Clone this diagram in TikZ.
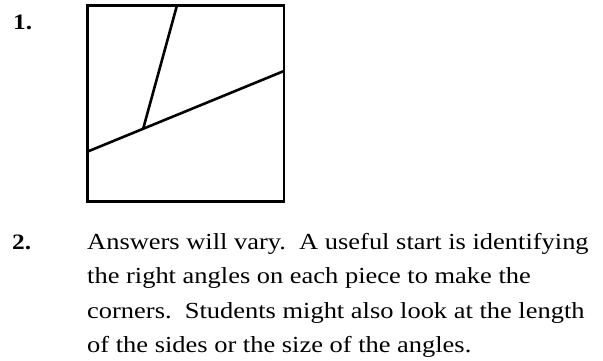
\documentclass[tikz,border=0pt]{standalone}
\usepackage{fontspec}
\setmainfont{Liberation Serif}
\newcommand{\widen}[1]{\scalebox{1.15}[1]{#1}}
\tikzset{
  edge/.style={line width=2.6pt, line join=miter, line cap=butt},
  numlabel/.style={anchor=base west, inner sep=0pt, font=\fontsize{22}{26}\selectfont\bfseries},
  textline/.style={anchor=base west, inner sep=0pt, font=\fontsize{23}{28}\selectfont},
}
\begin{document}
\begin{tikzpicture}[x=1pt,y=-1pt]
\useasboundingbox (0,0) rectangle (603,361);
% square
\coordinate (tl) at (87.3,5.3);
\coordinate (br) at (284,201.3);
\draw[edge] (tl) rectangle (br);
% cut lines
\coordinate (topcut) at (177,5.3);
\coordinate (joint) at (143.3,128.3);
\coordinate (leftcut) at (87.3,151.7);
\coordinate (rightcut) at (284,71);
\draw[edge] (topcut) -- (joint);
\draw[edge] (leftcut) -- (rightcut);
% labels
\node[numlabel] (n1) at (13,29.3) {\widen{1.}};
\node[numlabel] (n2) at (12,249.3) {\widen{2.}};
\node[textline] (l1) at (87,249.3) {\widen{Answers will vary.\ \ A useful start is identifying}};
\node[textline] (l2) at (87,283.7) {\widen{the right angles on each piece to make the}};
\node[textline] (l3) at (87,318.1) {\widen{corners.\ \ Students might also look at the length}};
\node[textline] (l4) at (87,352.5) {\widen{of the sides or the size of the angles.}};
\end{tikzpicture}
\end{document}
